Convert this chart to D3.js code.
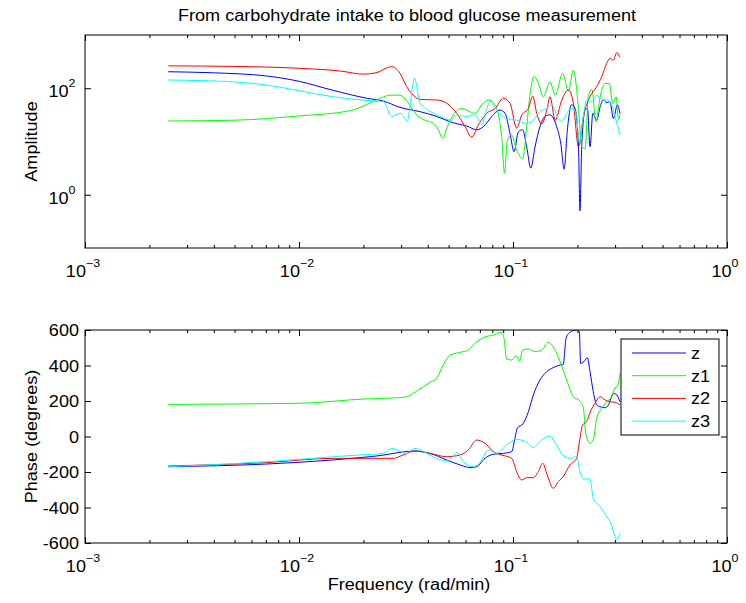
<!DOCTYPE html>
<html>
<head>
<meta charset="utf-8">
<script src="https://cdn.jsdelivr.net/npm/d3@7"></script>
<style>
  body { margin: 0; background: #fff; }
  text { font-family: "Liberation Sans", Arial, Helvetica, sans-serif; fill: #000; font-size: 16px; }
</style>
</head>
<body>
<script>
// Each point is [log10 frequency (rad/min), value]. Amplitudes are log10 values too.
const seriesNames = ["z", "z1", "z2", "z3"];
const seriesColors = ["#0000ff", "#00ff00", "#ff0000", "#00ffff"];

const ampZ = [[-2.611,2.31],[-2.40,2.29],[-2.15,2.23],[-2.0,2.13],[-1.84,1.96],[-1.68,1.81],[-1.606,1.76],[-1.528,1.64],[-1.434,1.56],[-1.356,1.47],[-1.279,1.35],[-1.216,1.29],[-1.169,1.22],[-1.138,1.28],[-1.099,1.47],[-1.061,1.59],[-1.037,1.53],[-1.014,1.15],[-0.995,0.81],[-0.975,1.18],[-0.955,1.22],[-0.936,0.90],[-0.917,0.50],[-0.897,0.90],[-0.874,1.28],[-0.850,1.47],[-0.827,1.50],[-0.796,1.28],[-0.777,0.97],[-0.761,0.48],[-0.746,1.22],[-0.726,1.69],[-0.710,1.62],[-0.694,0.90],[-0.687,-0.30],[-0.679,0.90],[-0.663,1.59],[-0.652,1.62],[-0.640,0.90],[-0.627,1.53],[-0.609,1.40],[-0.593,1.65],[-0.578,1.78],[-0.562,1.73],[-0.547,1.75],[-0.531,1.43],[-0.512,1.69],[-0.500,1.52]];

const ampZ1 = [[-2.611,1.385],[-2.30,1.40],[-2.0,1.48],[-1.76,1.58],[-1.68,1.70],[-1.621,1.81],[-1.575,1.87],[-1.528,1.87],[-1.489,1.72],[-1.450,1.50],[-1.411,1.40],[-1.372,1.34],[-1.349,1.22],[-1.328,1.06],[-1.307,1.28],[-1.279,1.50],[-1.240,1.62],[-1.201,1.56],[-1.177,1.53],[-1.146,1.69],[-1.115,1.78],[-1.084,1.69],[-1.053,1.09],[-1.040,0.41],[-1.026,1.03],[-1.006,1.12],[-0.983,0.84],[-0.955,0.68],[-0.936,1.28],[-0.920,1.90],[-0.902,2.22],[-0.881,2.09],[-0.858,1.84],[-0.827,2.12],[-0.803,1.87],[-0.768,2.28],[-0.741,1.94],[-0.718,2.34],[-0.694,1.62],[-0.679,0.90],[-0.663,0.87],[-0.648,1.84],[-0.632,1.98],[-0.612,1.37],[-0.593,1.84],[-0.570,2.09],[-0.550,2.09],[-0.534,1.72],[-0.518,1.84],[-0.507,1.40],[-0.500,1.50]];

const ampZ2 = [[-2.611,2.42],[-2.30,2.41],[-2.0,2.375],[-1.80,2.32],[-1.70,2.265],[-1.64,2.29],[-1.567,2.405],[-1.528,2.28],[-1.497,2.03],[-1.473,1.90],[-1.434,1.79],[-1.356,1.78],[-1.310,1.72],[-1.263,1.53],[-1.224,1.28],[-1.193,1.08],[-1.162,1.31],[-1.123,1.53],[-1.084,1.62],[-1.045,1.81],[-1.014,1.72],[-0.983,1.25],[-0.959,1.50],[-0.928,1.62],[-0.908,1.85],[-0.889,1.53],[-0.866,1.33],[-0.842,1.59],[-0.827,1.84],[-0.803,1.40],[-0.772,1.78],[-0.741,1.97],[-0.718,1.72],[-0.694,0.90],[-0.671,1.47],[-0.640,1.84],[-0.609,2.03],[-0.585,2.22],[-0.562,2.47],[-0.547,2.56],[-0.531,2.53],[-0.515,2.67],[-0.500,2.58]];

const ampZ3 = [[-2.611,2.155],[-2.307,2.12],[-2.15,2.06],[-2.0,1.954],[-1.84,1.84],[-1.68,1.77],[-1.606,1.75],[-1.567,1.47],[-1.528,1.53],[-1.493,1.39],[-1.478,1.78],[-1.461,2.19],[-1.434,1.72],[-1.395,1.59],[-1.341,1.47],[-1.286,1.40],[-1.263,1.50],[-1.216,1.47],[-1.177,1.50],[-1.146,1.31],[-1.123,1.62],[-1.104,1.75],[-1.076,1.59],[-1.029,1.43],[-0.983,1.40],[-0.936,1.34],[-0.905,1.40],[-0.874,1.56],[-0.842,1.62],[-0.819,1.69],[-0.796,1.50],[-0.772,1.37],[-0.749,1.53],[-0.726,1.62],[-0.705,1.53],[-0.690,0.99],[-0.674,1.40],[-0.655,1.78],[-0.632,1.75],[-0.609,1.87],[-0.585,1.78],[-0.562,1.78],[-0.539,1.69],[-0.523,1.47],[-0.500,1.12]];

const phaseZ = [[-2.611,-170],[-2.151,-155],[-1.84,-132],[-1.715,-119],[-1.607,-105],[-1.559,-95],[-1.458,-82],[-1.388,-95],[-1.310,-132],[-1.248,-160],[-1.201,-175],[-1.170,-170],[-1.131,-123],[-1.092,-100],[-1.045,-95],[-1.006,-85],[-0.991,-10],[-0.980,46],[-0.952,74],[-0.928,140],[-0.905,234],[-0.874,318],[-0.843,365],[-0.812,388],[-0.780,403],[-0.765,407],[-0.752,553],[-0.734,587],[-0.703,600],[-0.690,591],[-0.684,412],[-0.668,422],[-0.653,444],[-0.640,365],[-0.625,253],[-0.609,178],[-0.593,168],[-0.570,162],[-0.554,178],[-0.531,243],[-0.515,234],[-0.500,196]];

const phaseZ1 = [[-2.611,181],[-2.0,187],[-1.70,211],[-1.53,219],[-1.497,224],[-1.466,243],[-1.419,281],[-1.388,305],[-1.357,328],[-1.326,403],[-1.294,459],[-1.248,474],[-1.209,487],[-1.178,525],[-1.139,557],[-1.092,572],[-1.053,587],[-1.042,553],[-1.030,437],[-1.006,431],[-0.986,455],[-0.970,425],[-0.955,487],[-0.928,493],[-0.897,478],[-0.866,487],[-0.835,531],[-0.812,506],[-0.780,422],[-0.749,318],[-0.718,224],[-0.687,200],[-0.671,159],[-0.659,8],[-0.640,-38],[-0.625,-20],[-0.609,102],[-0.586,159],[-0.562,196],[-0.539,224],[-0.523,275],[-0.513,281],[-0.500,356]];

const phaseZ2 = [[-2.611,-166],[-2.151,-147],[-1.84,-123],[-1.715,-123],[-1.559,-123],[-1.513,-104],[-1.458,-82],[-1.388,-95],[-1.310,-114],[-1.248,-104],[-1.209,-76],[-1.170,-20],[-1.131,-38],[-1.092,-85],[-1.053,-104],[-1.006,-123],[-0.983,-198],[-0.960,-245],[-0.936,-232],[-0.905,-232],[-0.882,-198],[-0.861,-151],[-0.840,-217],[-0.812,-292],[-0.788,-254],[-0.765,-226],[-0.734,-160],[-0.703,-123],[-0.687,-10],[-0.675,65],[-0.656,84],[-0.637,144],[-0.617,187],[-0.593,224],[-0.570,206],[-0.547,196],[-0.523,193],[-0.500,178]];

const phaseZ3 = [[-2.611,-170],[-2.151,-142],[-1.84,-114],[-1.715,-104],[-1.606,-95],[-1.567,-67],[-1.497,-95],[-1.458,-67],[-1.403,-95],[-1.357,-123],[-1.302,-138],[-1.263,-89],[-1.232,-142],[-1.185,-170],[-1.154,-146],[-1.115,-76],[-1.076,-95],[-1.030,-48],[-0.983,-16],[-0.936,-33],[-0.905,-61],[-0.866,-20],[-0.830,3],[-0.796,-48],[-0.765,-108],[-0.734,-123],[-0.703,-114],[-0.687,-198],[-0.671,-239],[-0.640,-239],[-0.625,-348],[-0.593,-395],[-0.562,-451],[-0.539,-499],[-0.523,-564],[-0.513,-580],[-0.500,-540]];

const xTickExps = [-3, -2, -1, 0];
const ampTickExps = [0, 2];
const phaseTicks = [-600, -400, -200, 0, 200, 400, 600];

const width = 746, height = 603;
const marginLeft = 85, marginRight = 19;
const stretch = 1.13; // the reference text is drawn a little wide
const panels = [
  { top: 35, bottom: 248 },
  { top: 330, bottom: 543 }
];

const x = d3.scaleLog().domain([1e-3, 1]).range([marginLeft, width - marginRight]);
const yAmp = d3.scaleLog().domain([1e-1, 1e3]).range([panels[0].bottom, panels[0].top]);
const yPhase = d3.scaleLinear().domain([-600, 600]).range([panels[1].bottom, panels[1].top]);

const minorX = [];
[-3, -2, -1].forEach(e => { for (let k = 2; k <= 9; k++) minorX.push(k * Math.pow(10, e)); });
const majorX = xTickExps.map(e => Math.pow(10, e));

const svg = d3.select("body").append("svg")
    .attr("width", width)
    .attr("height", height)
    .attr("viewBox", [0, 0, width, height]);

// text placed at (tx, ty), widened a bit along its own direction
function label(tx, ty, anchor, rot) {
  return svg.append("text")
      .attr("transform", `translate(${tx},${ty})${rot ? " rotate(" + rot + ")" : ""} scale(${stretch},1)`)
      .attr("text-anchor", anchor);
}

function powLabel(tx, ty, e) {
  const t = label(tx, ty, "middle");
  t.append("tspan").text("10");
  t.append("tspan").attr("dy", -10).style("font-size", "11px").text(e < 0 ? "\u2212" + (-e) : e);
}

label(407, 21, "middle").text("From carbohydrate intake to blood glucose measurement");

function drawFrame(p, y, yTicks) {
  const g = svg.append("g");
  g.append("g").attr("transform", `translate(0,${p.bottom})`)
      .call(d3.axisBottom(x).tickValues(majorX).tickSize(-6).tickFormat(""));
  g.append("g").attr("transform", `translate(0,${p.bottom})`)
      .call(d3.axisBottom(x).tickValues(minorX).tickSize(-3).tickFormat(""));
  g.append("g").attr("transform", `translate(0,${p.top})`)
      .call(d3.axisTop(x).tickValues(majorX).tickSize(-6).tickFormat(""));
  g.append("g").attr("transform", `translate(0,${p.top})`)
      .call(d3.axisTop(x).tickValues(minorX).tickSize(-3).tickFormat(""));
  g.append("g").attr("transform", `translate(${marginLeft},0)`)
      .call(d3.axisLeft(y).tickValues(yTicks).tickSize(-6).tickFormat(""));
  g.append("g").attr("transform", `translate(${width - marginRight},0)`)
      .call(d3.axisRight(y).tickValues(yTicks).tickSize(-6).tickFormat(""));
  g.selectAll(".domain").remove();
  g.selectAll(".tick line").attr("stroke", "#000");
  g.selectAll(".tick text").remove();
  g.append("rect")
      .attr("x", marginLeft).attr("y", p.top)
      .attr("width", width - marginRight - marginLeft).attr("height", p.bottom - p.top)
      .attr("fill", "none").attr("stroke", "#000").attr("stroke-width", 1);

  xTickExps.forEach(e => powLabel(x(Math.pow(10, e)) - 2, p.bottom + 29, e));
}

function addClip(id, p) {
  svg.append("clipPath").attr("id", id)
    .append("rect")
      .attr("x", marginLeft).attr("y", p.top)
      .attr("width", width - marginRight - marginLeft)
      .attr("height", p.bottom - p.top);
}

addClip("clipA", panels[0]);
addClip("clipP", panels[1]);

const ampLine = d3.line()
    .curve(d3.curveMonotoneX)
    .x(d => x(Math.pow(10, d[0])))
    .y(d => yAmp(Math.pow(10, d[1])));
const phaseLine = d3.line()
    .curve(d3.curveMonotoneX)
    .x(d => x(Math.pow(10, d[0])))
    .y(d => yPhase(d[1]));

svg.append("g").attr("clip-path", "url(#clipA)")
  .selectAll("path")
  .data([ampZ, ampZ1, ampZ2, ampZ3])
  .join("path")
    .attr("fill", "none")
    .attr("stroke", (d, i) => seriesColors[i])
    .attr("stroke-width", 1)
    .attr("stroke-linejoin", "round")
    .attr("d", ampLine);

svg.append("g").attr("clip-path", "url(#clipP)")
  .selectAll("path")
  .data([phaseZ, phaseZ1, phaseZ2, phaseZ3])
  .join("path")
    .attr("fill", "none")
    .attr("stroke", (d, i) => seriesColors[i])
    .attr("stroke-width", 1)
    .attr("stroke-linejoin", "round")
    .attr("d", phaseLine);

drawFrame(panels[0], yAmp, ampTickExps.map(e => Math.pow(10, e)));
drawFrame(panels[1], yPhase, phaseTicks);

ampTickExps.forEach(e => powLabel(62, yAmp(Math.pow(10, e)) + 9, e));

phaseTicks.forEach(v => {
  label(79, yPhase(v) + 6, "end").text(v);
});

label(37, (panels[0].top + panels[0].bottom) / 2, "middle", -90).text("Amplitude");
label(37, (panels[1].top + panels[1].bottom) / 2, "middle", -90).text("Phase (degrees)");
label(409, 590, "middle").text("Frequency (rad/min)");

// legend
const legend = svg.append("g");
legend.append("rect")
    .attr("x", 621).attr("y", 339).attr("width", 98).attr("height", 96)
    .attr("fill", "#fff").attr("stroke", "#000");
seriesNames.forEach((name, i) => {
  const yy = 353 + i * 22.7;
  legend.append("line")
      .attr("x1", 632).attr("x2", 686).attr("y1", yy).attr("y2", yy)
      .attr("stroke", seriesColors[i]).attr("stroke-width", 1);
  legend.append("text")
      .attr("transform", `translate(691,${yy + 6}) scale(${stretch},1)`)
      .text(name);
});
</script>
</body>
</html>
